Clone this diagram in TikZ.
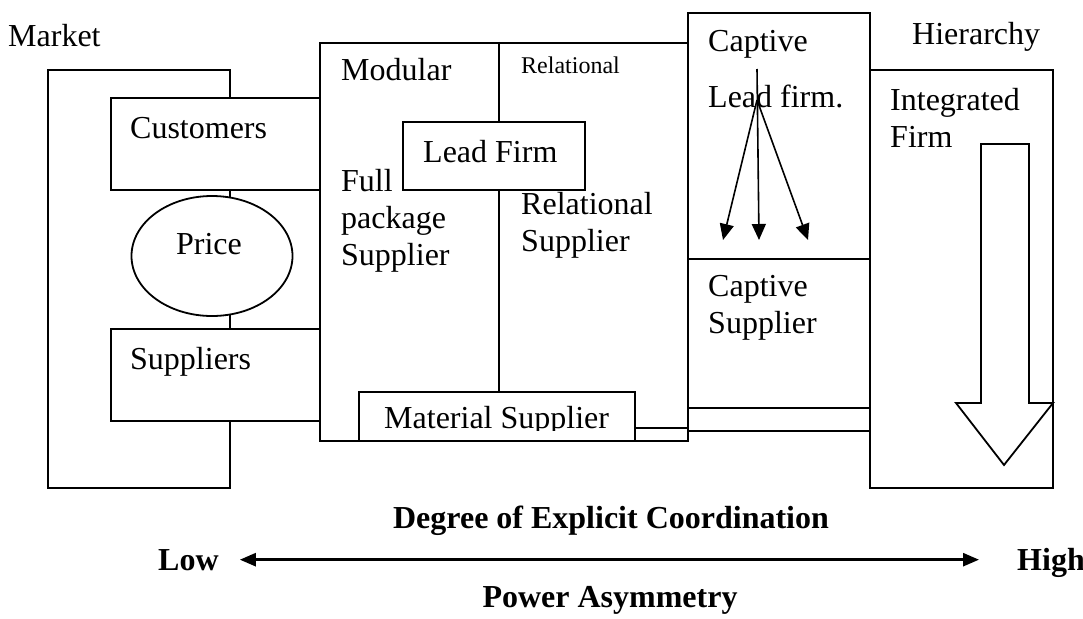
\documentclass[tikz,border=0pt]{standalone}
\usepackage{fontspec}
\setmainfont{Liberation Serif}
\usetikzlibrary{shapes.geometric,arrows.meta,calc}

\begin{document}
\begin{tikzpicture}[x=1pt,y=-1pt,
  box/.style={draw, line width=1.8pt, fill=white, anchor=north west, inner sep=0pt},
  lbl/.style={anchor=base west, inner sep=0pt, font=\fontsize{32}{37}\selectfont, align=left},
  small/.style={anchor=base west, inner sep=0pt, font=\fontsize{24}{28}\selectfont},
  axislbl/.style={inner sep=0pt, font=\fontsize{32}{37}\selectfont\bfseries},
  fanarrow/.style={line width=1.6pt, -{Triangle[length=16pt,width=14pt]}},
  link/.style={line width=1.8pt}]
\useasboundingbox (0,0) rectangle (1083,618);

% Market: customers and suppliers linked by price
\node[box, minimum width=182pt, minimum height=418pt] (market) at (47,69) {};
\node[box, minimum width=209pt, minimum height=92pt] (customers) at (110,97) {};
\node[box, minimum width=209pt, minimum height=92pt] (suppliers) at (110,328) {};
\node[draw, ellipse, line width=1.8pt, fill=white, minimum width=161pt, minimum height=120pt, inner sep=0pt] (price) at (212,256) {};
\node[lbl] (tmarket) at (8,46) {Market};
\node[lbl] (tcust) at (130,138) {Customers};
\node[lbl] (tsupp) at (130,369) {Suppliers};
\node[lbl, anchor=base] (tprice) at (209,254) {Price};

% Modular and relational (multi-line labels sit on their last baseline)
\node[box, minimum width=368pt, minimum height=398pt] (modular) at (319,42) {};
\node[box, minimum width=182pt, minimum height=68pt] (leadfirm) at (402,121) {};
\node[box, minimum width=276pt, minimum height=49pt] (matsup) at (358,391) {};
\coordinate (div) at (499,42);
\draw[link] (div) -- (leadfirm.north -| div);
\draw[link] (leadfirm.south -| div) -- (matsup.north -| div);
\node[lbl] (tmod) at (341,81) {Modular};
\node[small] (trel) at (521,74) {Relational};
\node[lbl] (tlead) at (423,162) {Lead Firm};
\node[lbl] (tfull) at (341,265) {Full\\package\\Supplier};
\node[lbl] (trelsup) at (521,251) {Relational\\Supplier};
\begin{scope}
  \clip (358,391) rectangle (634,430);
  \node[lbl] (tmat) at (384,428) {Material Supplier};
\end{scope}

% Captive
\node[box, minimum width=182pt, minimum height=246pt] (captop) at (687,12) {};
\node[box, minimum width=182pt, minimum height=149pt] (capsup) at (687,258) {};
\node[box, minimum width=182pt, minimum height=23pt] (capbot) at (687,407) {};
\coordinate (m1) at ($(matsup.south east)+(0,-14)$);
\draw[link] (m1) -- (m1 -| capbot.west);
\node[lbl] (tcap) at (708,52) {Captive};
\node[lbl] (tcaplead) at (708,107) {Lead firm.};
\node[lbl] (tcapsup) at (708,333) {Captive\\Supplier};
\coordinate (fantop) at (757,69);
\coordinate (fan) at (757,100);
\coordinate (tipL) at (723,240);
\coordinate (tipC) at (759,240);
\coordinate (tipR) at (808,240);
\draw[fanarrow] (fantop) -- (tipC);
\draw[fanarrow] (fan) -- (tipL);
\draw[fanarrow] (fan) -- (tipR);

% Hierarchy
\node[box, minimum width=183pt, minimum height=418pt] (hier) at (869,69) {};
\node[lbl] (thier) at (912,45) {Hierarchy};
\node[lbl] (tint) at (890,147) {Integrated\\Firm};
\draw[line width=1.8pt, fill=white] (981,144) -- (1029,144) -- (1029,403) -- (1053,403)
  -- (1004,465) -- (956,403) -- (981,403) -- cycle;

% Axis
\node[axislbl, anchor=base] (tdeg) at (611,528) {Degree of Explicit Coordination};
\node[axislbl, anchor=base west] (low) at (158,570) {Low};
\node[axislbl, anchor=base west] (high) at (1017,570) {High};
\node[axislbl, anchor=base] (tpow) at (610,607) {Power Asymmetry};
\draw[line width=2.6pt, {Triangle[length=16pt,width=13pt]}-{Triangle[length=16pt,width=13pt]},
  shorten <=21pt, shorten >=38pt] (low.east) -- (low.east -| high.west);
\end{tikzpicture}
\end{document}
